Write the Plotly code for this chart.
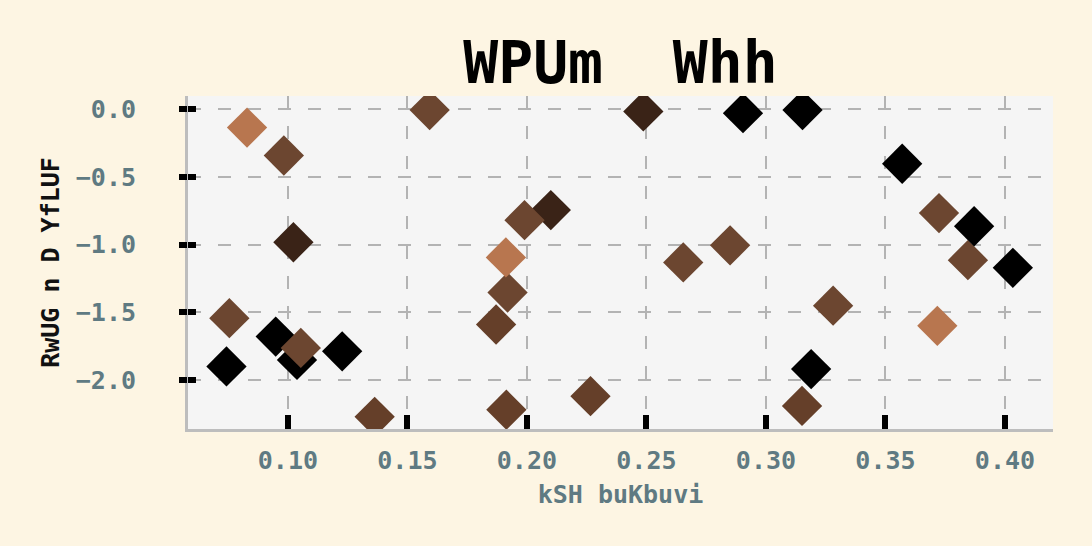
import plotly.graph_objects as go

# Scatter values
x_vals = [0.0829, 0.0983, 0.1023, 0.0755, 0.0743, 0.0949, 0.1038, 0.1054,
          0.1227, 0.1363, 0.1593, 0.1871, 0.1919, 0.1912, 0.1914, 0.2100,
          0.1990, 0.2266, 0.2487, 0.2654, 0.2850, 0.2904, 0.3153, 0.3151,
          0.3189, 0.3281, 0.3570, 0.3724, 0.3717, 0.3845, 0.3871, 0.4033]
y_vals = [-0.136, -0.342, -0.982, -1.542, -1.898, -1.678, -1.850, -1.762,
          -1.787, -2.270, -0.007, -1.589, -1.353, -1.094, -2.218, -0.745,
          -0.819, -2.118, -0.017, -1.131, -1.005, -0.030, -0.007, -2.190,
          -1.918, -1.450, -0.403, -0.767, -1.599, -1.114, -0.864, -1.171]
groups = ["a", "b", "d", "b", "e", "e", "e", "b",
          "e", "c", "b", "c", "b", "a", "c", "d",
          "b", "c", "d", "b", "b", "e", "e", "c",
          "e", "b", "e", "b", "a", "b", "e", "e"]

y_ticks = [0.0, -0.5, -1.0, -1.5, -2.0]
x_ticks = [0.10, 0.15, 0.20, 0.25, 0.30, 0.35, 0.40]

palette = {"a": "#b8764f", "b": "#6c4630", "c": "#653f29", "d": "#3a2317", "e": "#000000"}

mono = "DejaVu Sans Mono"
slate = "#5f7a82"
xr = [0.0582, 0.4201]
yr = [-2.36, 0.097]

fig = go.Figure()
fig.add_trace(go.Scatter(
    x=x_vals, y=y_vals, mode="markers",
    marker=dict(symbol="diamond", size=31, color=[palette[g] for g in groups],
                line=dict(width=0)),
    showlegend=False,
))
# invisible copy so the overlaid axis (outer tick marks) gets drawn
fig.add_trace(go.Scatter(
    x=x_vals, y=y_vals, yaxis="y2", mode="markers",
    marker=dict(size=1, opacity=0), hoverinfo="skip", showlegend=False,
))

fig.update_layout(
    width=1092, height=546,
    margin=dict(l=188, r=39, t=96, b=117),
    paper_bgcolor="#fdf5e3",
    plot_bgcolor="#f5f5f5",
    title=dict(text="<b>WPUm  Whh</b>", x=0.5, xref="paper", y=0.885, yanchor="middle",
               font=dict(family=mono, size=58, color="#000000")),
    xaxis=dict(
        range=xr, tickvals=x_ticks, ticktext=["<b>%.2f</b>" % v for v in x_ticks],
        ticks="inside", ticklen=14, tickwidth=6, tickcolor="#000000",
        ticklabelstandoff=7,
        tickfont=dict(family=mono, size=25, color=slate),
        showline=True, linecolor="#bdbdbd", linewidth=3,
        showgrid=True, gridcolor="#b3b3b3", gridwidth=1.5, griddash="13px,17px",
        zeroline=False,
        title=dict(text="<b>kSH buKbuvi</b>", standoff=12,
                   font=dict(family=mono, size=25, color=slate)),
    ),
    yaxis=dict(
        range=yr, tickvals=y_ticks, ticktext=["<b>%.1f</b>" % v if v == 0 else "<b>\u2212%.1f</b>" % -v for v in y_ticks],
        ticks="inside", ticklen=8, tickwidth=6, tickcolor="#000000",
        ticklabelstandoff=44,
        tickfont=dict(family=mono, size=25, color=slate),
        showline=True, linecolor="#bdbdbd", linewidth=3,
        showgrid=True, gridcolor="#b3b3b3", gridwidth=1.5, griddash="13px,17px",
        zeroline=False,
        title=dict(text="<b>RwUG n D YfLUF</b>", standoff=10,
                   font=dict(family=mono, size=25, color="#111111")),
    ),
    yaxis2=dict(
        overlaying="y", side="left", range=yr, tickvals=y_ticks,
        ticks="outside", ticklen=8, tickwidth=6, tickcolor="#000000",
        showticklabels=False, showgrid=False, showline=False, zeroline=False,
    ),
)

fig.write_html("out.html", config={"displayModeBar": False},
               post_script="document.body.style.margin='0';")
